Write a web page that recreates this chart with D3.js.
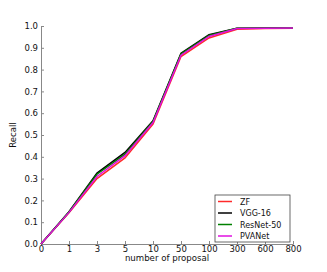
<!DOCTYPE html>
<meta charset="utf-8">
<script src="https://d3js.org/d3.v7.min.js"></script>
<style>
  body { margin: 0; background: #fff; }
  text { font-family: "DejaVu Sans", sans-serif; fill: #111; }
</style>
<div id="chart"></div>
<script>
// proposal counts (x categories) and recall per network
var proposals = ["0", "1", "3", "5", "10", "50", "100", "300", "600", "800"];
var zf       = [0, 0.143, 0.300, 0.395, 0.550, 0.860, 0.945, 0.985, 0.989, 0.990];
var vgg16    = [0, 0.148, 0.325, 0.420, 0.565, 0.875, 0.960, 0.990, 0.991, 0.992];
var resnet50 = [0, 0.147, 0.320, 0.412, 0.562, 0.872, 0.957, 0.990, 0.991, 0.992];
var pvanet   = [0, 0.145, 0.310, 0.405, 0.557, 0.866, 0.952, 0.988, 0.990, 0.991];
var yTicks = [0, 0.1, 0.2, 0.3, 0.4, 0.5, 0.6, 0.7, 0.8, 0.9, 1.0];

var series = [
  { name: "ZF", values: zf, color: "#ff2a2a" },
  { name: "VGG-16", values: vgg16, color: "#000000" },
  { name: "ResNet-50", values: resnet50, color: "#008000" },
  { name: "PVANet", values: pvanet, color: "#e010e0" }
];

var width = 327, height = 272;
var mLeft = 41, mRight = 293, mTop = 26, mBottom = 244;

var svg = d3.select("#chart").append("svg")
  .attr("width", width)
  .attr("height", height);

var x = d3.scalePoint().domain(proposals).range([mLeft, mRight]);
var y = d3.scaleLinear().domain([0, 1]).range([mBottom, mTop]);

// axes (left + bottom only), ticks pointing inward
var xAxis = svg.append("g")
  .attr("transform", "translate(0," + mBottom + ")")
  .call(d3.axisBottom(x).tickSize(-3).tickPadding(2));
var yAxis = svg.append("g")
  .attr("transform", "translate(" + mLeft + ",0)")
  .call(d3.axisLeft(y).tickValues(yTicks).tickFormat(d3.format(".1f")).tickSize(-3).tickPadding(3));

[xAxis, yAxis].forEach(function (g) {
  g.select(".domain").attr("stroke", "#888").attr("stroke-width", 1);
  g.selectAll(".tick line").attr("stroke", "#888");
  g.selectAll("text").style("font-size", "8.5px").attr("fill", "#111");
});

svg.append("text")
  .attr("x", (mLeft + mRight) / 2)
  .attr("y", 261)
  .attr("text-anchor", "middle")
  .style("font-size", "8.6px")
  .text("number of proposal");

svg.append("text")
  .attr("transform", "translate(16," + ((mTop + mBottom) / 2) + ") rotate(-90)")
  .attr("text-anchor", "middle")
  .style("font-size", "8.5px")
  .text("Recall");

var line = d3.line()
  .x(function (d, i) { return x(proposals[i]); })
  .y(function (d) { return y(d); });

svg.selectAll(".series")
  .data(series)
  .enter()
  .append("path")
  .attr("fill", "none")
  .attr("stroke", function (d) { return d.color; })
  .attr("stroke-width", 1.5)
  .attr("d", function (d) { return line(d.values); });

// legend
var lg = svg.append("g");
lg.append("rect")
  .attr("x", 215).attr("y", 195)
  .attr("width", 75).attr("height", 47)
  .attr("fill", "#fff")
  .attr("stroke", "#444")
  .attr("stroke-width", 0.8);

var items = lg.selectAll(".item")
  .data(series)
  .enter()
  .append("g")
  .attr("transform", function (d, i) { return "translate(0," + (201.5 + i * 11.5) + ")"; });

items.append("line")
  .attr("x1", 218).attr("x2", 232)
  .attr("y1", 0).attr("y2", 0)
  .attr("stroke", function (d) { return d.color; })
  .attr("stroke-width", 1.5);

items.append("text")
  .attr("x", 240)
  .attr("y", 3)
  .style("font-size", "8px")
  .text(function (d) { return d.name; });
</script>
